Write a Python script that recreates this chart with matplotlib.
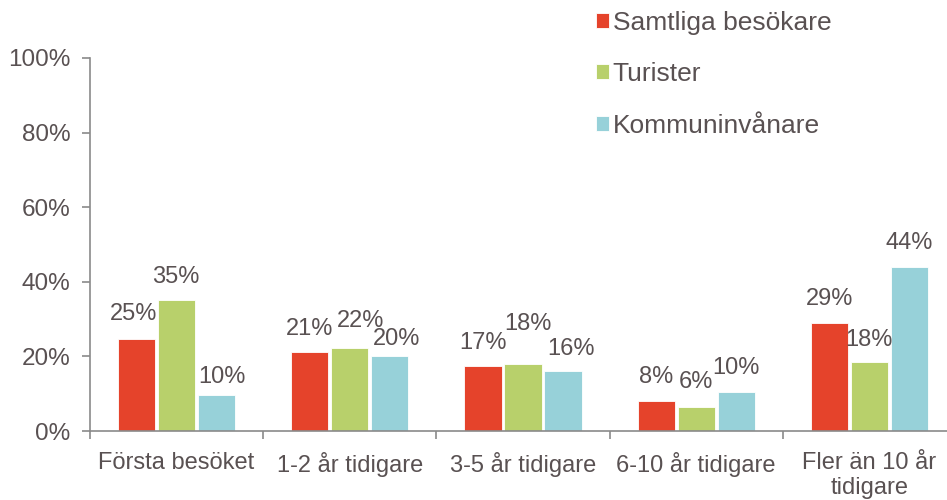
import matplotlib
matplotlib.use('Agg')
import matplotlib.pyplot as plt
import numpy as np

kategorier = ['Första besöket', '1-2 år tidigare', '3-5 år tidigare', '6-10 år tidigare', 'Fler än 10 år\ntidigare']
serier = ['Samtliga besökare', 'Turister', 'Kommuninvånare']
samtliga = [24.7, 21.2, 17.4, 8.0, 29.0]
turister = [35.1, 22.2, 18.0, 6.4, 18.5]
kommun = [9.7, 20.1, 16.1, 10.4, 44.0]
etiketter = [['25%', '21%', '17%', '8%', '29%'],
             ['35%', '22%', '18%', '6%', '18%'],
             ['10%', '20%', '16%', '10%', '44%']]
farger = ['#E5432B', '#B8D06B', '#97D1D9']

# etikettförskjutning i pixlar (dx, avstånd ovanför stapeln), som i originalet
forskj = [[(-3, 19), (0, 17), (0, 17), (0, 18), (0, 18)],
          [(-1, 17), (11, 21), (5, 34), (0, 19), (0, 16)],
          [(5, 12), (7, 11), (8, 16), (0, 18), (0, 18)]]

plt.rcParams['font.family'] = ['Liberation Sans', 'DejaVu Sans']
textfarg = '#595152'
axfarg = '#8a8a8a'

fig = plt.figure(figsize=(9.47, 5), dpi=100)
ax = fig.add_axes([90/947, 69/500, 866/947, 373/500])

x = np.arange(len(kategorier))
bredd = 0.214
steg = 0.231
for i, (vals, namn) in enumerate(zip([samtliga, turister, kommun], serier)):
    pos = x + (i - 1) * steg
    ax.bar(pos, vals, bredd, color=farger[i], edgecolor='white', linewidth=0.6, label=namn)
    for j, (p, v, t) in enumerate(zip(pos, vals, etiketter[i])):
        dx, dy = forskj[i][j]
        ax.annotate(t, (p, v), xytext=(dx * 0.72, dy * 0.72), textcoords='offset points',
                    ha='center', va='baseline', fontsize=17, color=textfarg)

ax.set_xlim(-0.5, len(kategorier) - 0.5)
ax.set_ylim(0, 100)
ax.set_yticks(range(0, 101, 20))
ax.set_yticklabels([f'{v}%' for v in range(0, 101, 20)], fontsize=17.5, color=textfarg)
ax.set_xticks(x)
ax.set_xticklabels(kategorier, fontsize=17, color=textfarg)
ax.set_xticks(np.arange(-0.5, len(kategorier)), minor=True)
ax.tick_params(axis='x', which='major', length=0, pad=15)
ax.tick_params(axis='x', which='minor', length=6, color=axfarg, width=1.2)
ax.tick_params(axis='y', length=6, color=axfarg, width=1.2, pad=8)
for s in ['top', 'right']:
    ax.spines[s].set_visible(False)
for s in ['left', 'bottom']:
    ax.spines[s].set_color(axfarg)
    ax.spines[s].set_linewidth(1.2)

leg = fig.legend(loc='upper left', bbox_to_anchor=(585/947, 1.0), frameon=False,
                 fontsize=19, handlelength=0.5, handleheight=0.5, handletextpad=0.15,
                 labelspacing=1.05, borderaxespad=0)
for t in leg.get_texts():
    t.set_color(textfarg)

fig.savefig('out.png', dpi=100)
